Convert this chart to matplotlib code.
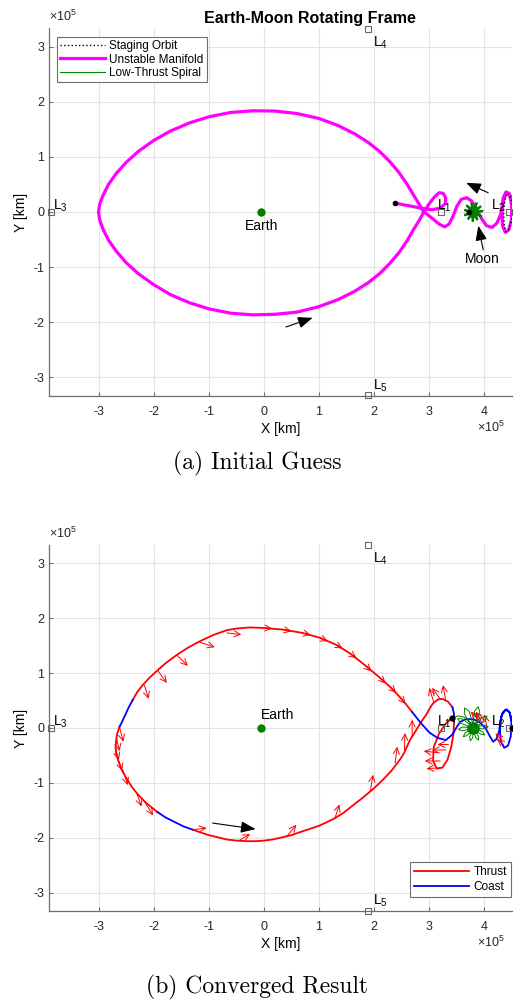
import numpy as np
import matplotlib.pyplot as plt

plt.rcParams['font.family'] = ['Liberation Sans', 'DejaVu Sans']
plt.rcParams['mathtext.fontset'] = 'custom'
plt.rcParams['mathtext.rm'] = 'Liberation Sans'
plt.rcParams['mathtext.it'] = 'Liberation Sans:italic'
plt.rcParams['axes.unicode_minus'] = False

# everything below is in units of 1e5 km, Earth-Moon rotating frame
earth = (-0.047, 0.0)
moon = (3.80, 0.0)
lp_names = ['1', '2', '3', '4', '5']
lp_x = [3.22, 4.44, -3.86, 1.88, 1.88]
lp_y = [0.0, 0.0, 0.0, 3.33, -3.33]

# ---- initial guess ----
staging_x = [4.52, 4.50, 4.46, 4.41, 4.37, 4.35, 4.36, 4.39, 4.44, 4.49, 4.52]
staging_y = [0.0, 0.18, 0.30, 0.34, 0.22, 0.0, -0.22, -0.36, -0.32, -0.16, 0.0]

manifold_x = [4.52, 4.50, 4.45, 4.39, 4.34, 4.32, 4.33, 4.38, 4.44, 4.49, 4.50, 4.46, 4.40, 4.35,
              4.30, 4.23, 4.14, 4.04, 3.95, 3.86, 3.77, 3.68, 3.58, 3.50, 3.43, 3.36, 3.28, 3.18,
              3.06, 2.96, 2.90,
              2.82, 2.72, 2.60, 2.45, 2.28, 2.10, 1.90, 1.65, 1.35, 1.00, 0.60, 0.20, -0.20,
              -0.60, -1.00, -1.35, -1.70, -2.00, -2.28, -2.50, -2.68, -2.82, -2.92, -2.98, -3.00,
              -2.98, -2.92, -2.82, -2.68, -2.50, -2.28, -2.00, -1.70, -1.35, -1.00, -0.60, -0.20,
              0.20, 0.60, 1.00, 1.35, 1.65, 1.90, 2.10, 2.28, 2.45, 2.60, 2.72, 2.82, 2.90,
              3.00, 3.10, 3.18, 3.25, 3.30, 3.29, 3.20, 3.05, 2.90, 2.65, 2.38]
manifold_y = [0.0, 0.20, 0.34, 0.36, 0.25, 0.0, -0.25, -0.37, -0.33, -0.15, 0.10, 0.30, 0.36, 0.22,
              -0.03, -0.20, -0.28, -0.25, -0.12, 0.05, 0.20, 0.26, 0.23, 0.10, -0.08, -0.22, -0.27, -0.22,
              -0.12, -0.04, 0.0,
              0.14, 0.30, 0.50, 0.72, 0.92, 1.10, 1.26, 1.42, 1.57, 1.70, 1.79, 1.835, 1.84,
              1.81, 1.73, 1.62, 1.47, 1.30, 1.10, 0.90, 0.70, 0.50, 0.30, 0.14, 0.0,
              -0.14, -0.31, -0.51, -0.71, -0.92, -1.12, -1.32, -1.50, -1.65, -1.76, -1.84, -1.87,
              -1.86, -1.82, -1.72, -1.59, -1.44, -1.28, -1.12, -0.94, -0.74, -0.52, -0.31, -0.15, 0.0,
              0.15, 0.28, 0.35, 0.34, 0.26, 0.15, 0.07, 0.04, 0.06, 0.11, 0.16]

# spiral about the Moon, polar (deg, 1e5 km) about the Moon centre
spiral0_ang = [0, 17, 33, 49, 66, 82, 98, 115, 131, 147, 164, 180, 196, 213, 229, 245, 262, 278,
               294, 311, 327, 343, 8, 25, 41, 57, 74, 90, 106, 123, 139, 155, 172, 188, 204, 221,
               237, 253, 270, 286, 302, 319, 335, 351, 4, 21, 37, 53, 70, 86, 102, 119, 135, 151,
               168, 184, 200, 217, 233, 249, 266, 282, 298, 315, 331, 347, 180]
spiral0_r = [0.17, 0.04, 0.17, 0.05, 0.18, 0.04, 0.17, 0.05, 0.17, 0.04, 0.16, 0.05, 0.17, 0.04,
             0.16, 0.05, 0.17, 0.04, 0.16, 0.05, 0.17, 0.04, 0.18, 0.05, 0.17, 0.04, 0.18, 0.05,
             0.17, 0.04, 0.17, 0.05, 0.16, 0.04, 0.17, 0.05, 0.16, 0.04, 0.17, 0.05, 0.16, 0.04,
             0.17, 0.05, 0.16, 0.04, 0.17, 0.05, 0.17, 0.04, 0.16, 0.05, 0.17, 0.04, 0.16, 0.05,
             0.17, 0.04, 0.16, 0.05, 0.17, 0.04, 0.16, 0.05, 0.17, 0.04, 0.07]
guess_dots_x = [2.38, 3.73]
guess_dots_y = [0.16, 0.0]

# ---- converged result ----
thrust_arcs = [
    ([2.69, 2.58, 2.47, 2.30, 2.11, 1.85, 1.56, 1.30, 1.02, 0.70, 0.35, 0.00, -0.25, -0.50,
      -0.67, -0.90, -1.16, -1.38, -1.58, -1.77, -1.93, -2.08, -2.20, -2.30, -2.38],
     [0.29, 0.43, 0.56, 0.74, 0.91, 1.13, 1.36, 1.52, 1.64, 1.73, 1.79, 1.82, 1.83, 1.81,
      1.78, 1.70, 1.58, 1.46, 1.33, 1.19, 1.05, 0.91, 0.78, 0.65, 0.51]),
    ([-2.62, -2.66, -2.68, -2.69, -2.68, -2.64, -2.58, -2.52, -2.46, -2.39, -2.31, -2.22,
      -2.13, -2.03, -1.93],
     [0.02, -0.10, -0.22, -0.35, -0.47, -0.60, -0.76, -0.87, -0.97, -1.08, -1.18, -1.28,
      -1.37, -1.45, -1.53]),
    ([-1.29, -1.15, -1.00, -0.83, -0.67, -0.48, -0.30, -0.15, 0.00, 0.15, 0.29, 0.50, 0.70,
      0.85, 1.00, 1.15, 1.29, 1.45, 1.60, 1.78, 1.96, 2.08, 2.20, 2.32, 2.42, 2.50, 2.55, 2.60,
      2.65, 2.75, 2.84, 2.95, 3.01, 3.07, 3.16, 3.24, 3.34, 3.42],
     [-1.85, -1.90, -1.95, -1.99, -2.03, -2.05, -2.06, -2.06, -2.05, -2.03, -2.00, -1.95, -1.88,
      -1.83, -1.78, -1.71, -1.64, -1.54, -1.42, -1.28, -1.13, -1.02, -0.90, -0.77, -0.64, -0.53,
      -0.44, -0.33, -0.22, -0.06, 0.09, 0.25, 0.36, 0.45, 0.52, 0.53, 0.48, 0.38]),
    ([3.45, 3.44, 3.40, 3.33, 3.24, 3.14, 3.07, 3.08, 3.18, 3.30, 3.41],
     [0.12, -0.10, -0.35, -0.58, -0.72, -0.74, -0.60, -0.35, -0.10, 0.08, 0.18]),
]
coast_arcs = [
    ([2.69, 2.84, 3.00, 3.15, 3.30, 3.42, 3.50, 3.56, 3.66, 3.80, 3.92, 4.02, 4.10, 4.16, 4.22,
      4.27, 4.29, 4.33, 4.40, 4.46, 4.49, 4.48, 4.43, 4.36, 4.30, 4.28, 4.31, 4.38, 4.45, 4.50, 4.50],
     [0.29, 0.10, -0.08, -0.18, -0.22, -0.12, 0.02, 0.11, 0.16, 0.16, 0.10, 0.0, -0.15, -0.25, -0.20,
      -0.05, 0.12, 0.28, 0.34, 0.28, 0.10, -0.15, -0.32, -0.36, -0.25, 0.0, 0.22, 0.33, 0.30, 0.15, 0.0]),
    ([-2.38, -2.45, -2.51, -2.57, -2.62], [0.51, 0.38, 0.25, 0.12, 0.02]),
    ([-1.93, -1.78, -1.62, -1.46, -1.29], [-1.53, -1.63, -1.71, -1.79, -1.85]),
    ([3.42, 3.45, 3.45], [0.38, 0.25, 0.12]),
]

# thrust direction arrows: base point and vector
thr_x = [-0.67, -1.16, -1.58, -1.93, -2.17, -2.62, -2.67, -2.69, -2.64, -2.56, -2.31, -2.16,
         -1.29, -0.44, 0.41, 1.29, 1.93, 2.38, 2.55, 2.69,
         0.00, 0.35, 0.70, 1.02, 1.30, 1.56, 1.85, 2.11, 2.30, 2.47,
         3.08, 3.20, 3.30, 3.20, 3.25, 3.15, 3.35, 3.30,
         3.95, 4.05, 4.00, 3.90, 4.35, 4.30]
thr_y = [1.73, 1.56, 1.33, 1.05, 0.78, 0.02, -0.20, -0.38, -0.58, -0.76, -1.18, -1.35,
         -1.85, -2.04, -1.98, -1.64, -1.16, -0.64, -0.40, -0.16,
         1.82, 1.79, 1.73, 1.64, 1.52, 1.36, 1.13, 0.91, 0.74, 0.56,
         0.48, 0.53, 0.50, -0.60, -0.72, -0.45, -0.30, -0.40,
         0.10, 0.00, 0.15, 0.15, -0.30, -0.20]
thr_u = [0.26, 0.27, 0.20, 0.17, 0.08, 0.07, 0.05, 0.06, 0.07, 0.09, 0.09, 0.15,
         0.25, 0.19, 0.18, 0.08, 0.05, 0.04, 0.01, 0.00,
         0.15, 0.15, 0.15, 0.14, 0.13, 0.12, 0.10, 0.10, 0.10, 0.10,
         -0.08, -0.15, -0.05, -0.28, -0.30, -0.25, -0.20, -0.25,
         -0.10, -0.05, -0.20, -0.15, -0.12, -0.10]
thr_v = [-0.03, -0.09, -0.20, -0.23, -0.25, -0.27, -0.22, -0.20, -0.20, -0.28, -0.25, -0.24,
         0.03, 0.11, 0.22, 0.25, 0.31, 0.30, 0.31, 0.31,
         -0.01, -0.03, -0.04, -0.06, -0.07, -0.09, -0.10, -0.10, -0.10, -0.12,
         0.25, 0.20, 0.28, 0.00, -0.02, 0.03, 0.00, 0.00,
         0.20, 0.25, 0.10, 0.15, 0.10, 0.10]

# spiral about the Moon, petals (deg, 1e5 km)
spiral1_ang = [-9, -4, 5, 14, 19, 27, 32, 41, 50, 55, 63, 68, 77, 86, 91, 99, 104, 113, 122, 127,
               135, 140, 149, 158, 163, 171, 176, 185, 194, 199, 207, 212, 221, 230, 235, 243,
               248, 257, 266, 271, 279, 284, 293, 302, 307, 315, 320, 329, 338, 343, 351]
spiral1_r = [0.08, 0.21, 0.27, 0.21, 0.08, 0.09, 0.26, 0.33, 0.26, 0.09, 0.10, 0.31, 0.40, 0.31,
             0.10, 0.10, 0.31, 0.40, 0.31, 0.10, 0.09, 0.26, 0.33, 0.26, 0.09, 0.08, 0.21, 0.27,
             0.21, 0.08, 0.07, 0.18, 0.24, 0.18, 0.07, 0.07, 0.18, 0.24, 0.18, 0.07, 0.07, 0.18,
             0.24, 0.18, 0.07, 0.07, 0.18, 0.24, 0.18, 0.07, 0.08]
approach_x = [3.41, 3.52, 3.63]
approach_y = [0.18, 0.22, 0.20]
result_dots_x = [3.41, 4.50]
result_dots_y = [0.18, 0.0]

xticks = [-3, -2, -1, 0, 1, 2, 3, 4]
yticks = [-3, -2, -1, 0, 1, 2, 3]

MAGENTA = '#ff00ff'
GREEN = '#008000'


def polar_xy(ang, r):
    a = np.radians(ang)
    return moon[0] + np.array(r) * np.cos(a), moon[1] + np.array(r) * np.sin(a)


def frame(ax, ylim):
    ax.set_xlim(-3.9, 4.5)
    ax.set_ylim(*ylim)
    ax.set_xticks(xticks)
    ax.set_yticks(yticks)
    ax.grid(True, color='#e3e3e3', lw=0.8)
    ax.set_axisbelow(True)
    for s in ['top', 'right']:
        ax.spines[s].set_visible(False)
    for s in ['left', 'bottom']:
        ax.spines[s].set_color('#6e6e6e')
        ax.spines[s].set_linewidth(0.9)
    ax.tick_params(direction='in', length=3, color='#6e6e6e', labelsize=9, labelcolor='#262626')
    ax.tick_params(axis='x', pad=7)
    ax.set_xlabel('X [km]', fontsize=10, labelpad=3)
    ax.set_ylabel('Y [km]', fontsize=10, labelpad=4)
    ax.text(0, 1.01, r'$\times10^5$', transform=ax.transAxes, fontsize=9, color='#262626',
            ha='left', va='bottom')
    ax.text(0.985, -0.064, r'$\times10^5$', transform=ax.transAxes, fontsize=9, color='#262626',
            ha='right', va='top')
    # Lagrange points
    ax.plot(lp_x, lp_y, 's', ms=5, mfc='none', mec='#666666', mew=0.8, clip_on=False, zorder=6)
    offs = [(-3, 1.5), (-13, 1.5), (1.5, 1.5), (3.6, -13), (3.6, 4.3)]
    for n, x, y, o in zip(lp_names, lp_x, lp_y, offs):
        ax.annotate('L$_{%s}$' % n, (x, y), xytext=o, textcoords='offset points',
                    fontsize=10, ha='left', va='baseline', zorder=7)
    ax.plot(*earth, 'o', ms=5, color=GREEN, zorder=6)


def arrow(ax, tail, head):
    ax.annotate('', xy=head, xytext=tail,
                arrowprops=dict(arrowstyle='-|>,head_length=0.9,head_width=0.35', color='k',
                                lw=0.8, shrinkA=0, shrinkB=0), zorder=8)


fig = plt.figure(figsize=(5.15, 10), dpi=100)

# (a) initial guess
ax1 = fig.add_axes([0.095, 0.604, 0.899, 0.368])
frame(ax1, (-3.345, 3.345))
ax1.plot(staging_x, staging_y, ':', color='k', lw=1.0, label='Staging Orbit', zorder=4)
ax1.plot(manifold_x, manifold_y, color=MAGENTA, lw=2.3, label='Unstable Manifold', zorder=3)
sx, sy = polar_xy(spiral0_ang, spiral0_r)
ax1.plot(sx, sy, color=GREEN, lw=0.8, label='Low-Thrust Spiral', zorder=4)
ax1.plot(*moon, 'o', ms=7, color=GREEN, zorder=5)
ax1.plot(guess_dots_x, guess_dots_y, 'o', ms=3, color='k', zorder=6)
ax1.annotate('Earth', earth, xytext=(0, -5), textcoords='offset points', ha='center', va='top',
             fontsize=10)
arrow(ax1, (0.40, -2.09), (0.885, -1.923))
arrow(ax1, (4.07, 0.35), (3.67, 0.53))
arrow(ax1, (3.98, -0.69), (3.89, -0.25))
ax1.text(3.97, -0.72, 'Moon', ha='center', va='top', fontsize=10)
leg = ax1.legend(loc='upper left', bbox_to_anchor=(0.017, 0.976), fontsize=8.5, handlelength=3.8,
                 borderaxespad=0, fancybox=False, edgecolor='#6e6e6e', framealpha=1,
                 borderpad=0.25, labelspacing=0.15, handletextpad=0.4)
leg.get_frame().set_linewidth(0.8)

# (b) converged result
ax2 = fig.add_axes([0.095, 0.089, 0.899, 0.366])
frame(ax2, (-3.33, 3.33))
for i, (x, y) in enumerate(thrust_arcs):
    ax2.plot(x, y, color='red', lw=1.3, label='Thrust' if i == 0 else None, zorder=3)
for i, (x, y) in enumerate(coast_arcs):
    ax2.plot(x, y, color='blue', lw=1.3, label='Coast' if i == 0 else None, zorder=3)
for x, y, u, v in zip(thr_x, thr_y, thr_u, thr_v):
    ax2.annotate('', xy=(x + u, y + v), xytext=(x, y),
                 arrowprops=dict(arrowstyle='->,head_length=0.45,head_width=0.22', color='red',
                                 lw=0.7, shrinkA=0, shrinkB=0), zorder=4)
sx, sy = polar_xy(spiral1_ang, spiral1_r)
ax2.plot(approach_x + list(sx), approach_y + list(sy), color=GREEN, lw=0.7, zorder=4)
ax2.plot(*moon, 'o', ms=8, color=GREEN, zorder=5)
ax2.plot(result_dots_x, result_dots_y, 'o', ms=3.5, color='k', zorder=6)
ax2.annotate('Earth', earth, xytext=(0, 4), textcoords='offset points', ha='left',
             va='bottom', fontsize=10)
arrow(ax2, (-0.93, -1.73), (-0.15, -1.84))
leg2 = ax2.legend(loc='lower right', bbox_to_anchor=(0.998, 0.038), fontsize=8.5, handlelength=4.6,
                  borderaxespad=0, fancybox=False, edgecolor='#6e6e6e', framealpha=1,
                  borderpad=0.35, labelspacing=0.25, handletextpad=0.4)
leg2.get_frame().set_linewidth(0.8)

fig.text(310 / 515, 1 - 18 / 1000, 'Earth-Moon Rotating Frame', ha='center', va='center',
         fontsize=11.5, fontweight='bold')
fig.text(0.5, 1 - 463 / 1000, '(a) Initial Guess', ha='center', va='center', fontsize=17,
         family='cmr10')
fig.text(0.5, 1 - 987 / 1000, '(b) Converged Result', ha='center', va='center', fontsize=17,
         family='cmr10')

fig.savefig('out.png', dpi=100)
